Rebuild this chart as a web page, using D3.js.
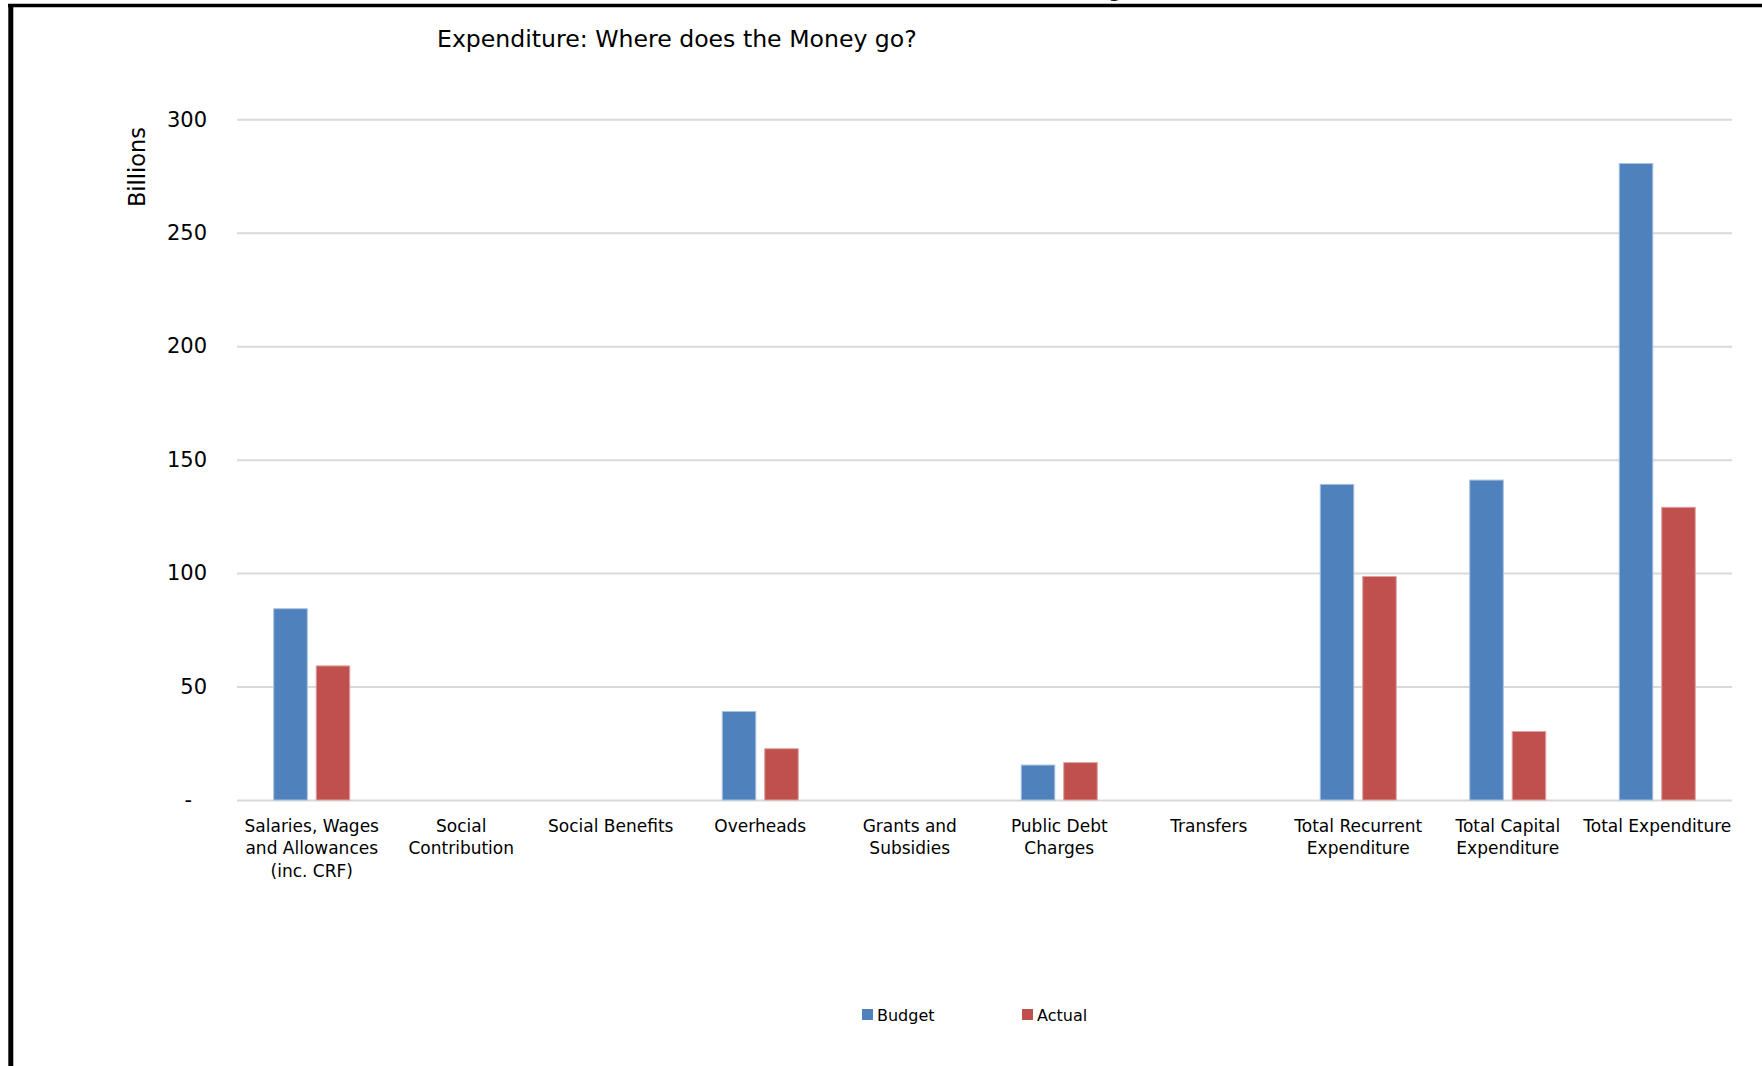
<!DOCTYPE html>
<html>
<head>
<meta charset="utf-8">
<script src="https://cdn.jsdelivr.net/npm/d3@7"></script>
<style>
  html, body { margin: 0; padding: 0; background: #fff; }
  svg { display: block; font-family: "DejaVu Sans", Verdana, sans-serif; }
</style>
</head>
<body>
<svg id="chart" width="1762" height="1066"></svg>
<script>
// Expenditure by category, in billions
const categories = [
  "Salaries, Wages|and Allowances|(inc. CRF)",
  "Social|Contribution",
  "Social Benefits",
  "Overheads",
  "Grants and|Subsidies",
  "Public Debt|Charges",
  "Transfers",
  "Total Recurrent|Expenditure",
  "Total Capital|Expenditure",
  "Total Expenditure"
];
const seriesNames = ["Budget", "Actual"];
const budget = [84.3, 0, 0, 39.0, 0, 15.4, 0, 139.1, 141.0, 280.5];
const actual = [59.1, 0, 0, 22.6, 0, 16.5, 0, 98.5, 30.2, 129.0];
const yTicks = [0, 50, 100, 150, 200, 250, 300];
const yTickLabels = ["-", "50", "100", "150", "200", "250", "300"];
const colors = ["#4f81bd", "#c0504d"];
const edgeColors = ["#a9c0de", "#dea3a1"];

const svg = d3.select("#chart");
const W = 1762, H = 1066;
const plot = { left: 237, right: 1732, top: 119.3, bottom: 800 };

// frame lines along the top and left edges
svg.append("line").attr("x1", 8).attr("x2", W).attr("y1", 5.6).attr("y2", 5.6)
  .attr("stroke", "#000").attr("stroke-width", 3.5);
svg.append("line").attr("x1", 10.8).attr("x2", 10.8).attr("y1", 4).attr("y2", H)
  .attr("stroke", "#000").attr("stroke-width", 5);
// descender of the sheet heading above
svg.append("text").attr("x", 1115).attr("y", -3).attr("text-anchor", "middle")
  .attr("font-size", 22).attr("fill", "#000").text("g");

const x0 = d3.scaleBand().domain(d3.range(categories.length))
  .range([plot.left, plot.right]).paddingInner(0).paddingOuter(0);
const bw = x0.bandwidth();
const groupW = 76;
const x1 = d3.scaleBand().domain(seriesNames)
  .range([bw / 2 - groupW / 2, bw / 2 + groupW / 2]).paddingInner(0.21).paddingOuter(0);
const y = d3.scaleLinear().domain([0, 300]).range([plot.bottom, plot.top]);

// gridlines
const yAxis = d3.axisLeft(y).tickValues(yTicks)
  .tickSize(-(plot.right - plot.left)).tickPadding(30)
  .tickFormat((d, i) => yTickLabels[i]);
const gy = svg.append("g").attr("transform", `translate(${plot.left},0)`).call(yAxis);
gy.select(".domain").remove();
gy.selectAll(".tick line").attr("stroke", "#d9d9d9").attr("stroke-width", 2);
gy.selectAll(".tick text").attr("font-size", 21).attr("fill", "#000")
  .attr("font-family", "DejaVu Sans")
  .attr("dx", d => (d === 0 ? -15 : 0));

// bars
const rows = categories.map((c, i) => ({ i, vals: [budget[i], actual[i]] }));
const groups = svg.append("g").selectAll("g").data(rows).join("g")
  .attr("transform", d => `translate(${x0(d.i)},0)`);
groups.selectAll("rect")
  .data(d => d.vals.map((v, k) => ({ k, v })).filter(e => e.v > 0))
  .join("rect")
  .attr("x", e => x1(seriesNames[e.k]))
  .attr("width", x1.bandwidth())
  .attr("y", e => y(e.v))
  .attr("height", e => y(0) - y(e.v))
  .attr("fill", e => colors[e.k])
  .attr("stroke", e => edgeColors[e.k])
  .attr("stroke-width", 1);

// category labels
const xAxis = d3.axisBottom(x0).tickSize(0).tickPadding(0).tickFormat("");
const gx = svg.append("g").attr("transform", `translate(0,${plot.bottom})`).call(xAxis);
gx.select(".domain").remove();
gx.selectAll(".tick").each(function (d) {
  const lines = categories[d].split("|");
  const t = d3.select(this).append("text")
    .attr("text-anchor", "middle").attr("fill", "#000")
    .attr("font-size", 17).attr("font-family", "DejaVu Sans");
  lines.forEach((ln, j) => {
    t.append("tspan").attr("x", 0).attr("y", 32 + j * 22.3).text(ln);
  });
});

// title
svg.append("text").attr("x", 437).attr("y", 47).attr("font-size", 23.6)
  .attr("fill", "#000").text("Expenditure: Where does the Money go?");

// y axis title
svg.append("text").attr("transform", "translate(145,167) rotate(-90)")
  .attr("text-anchor", "middle").attr("font-size", 22.5).attr("fill", "#000")
  .text("Billions");

// legend
const legendX = [862, 1022];
const lg = svg.append("g").selectAll("g").data(seriesNames).join("g")
  .attr("transform", (d, i) => `translate(${legendX[i]},1009)`);
lg.append("rect").attr("width", 11).attr("height", 11)
  .attr("fill", (d, i) => colors[i]);
lg.append("text").attr("x", 15).attr("y", 12).attr("font-size", 16)
  .attr("fill", "#000").text(d => d);
</script>
</body>
</html>
